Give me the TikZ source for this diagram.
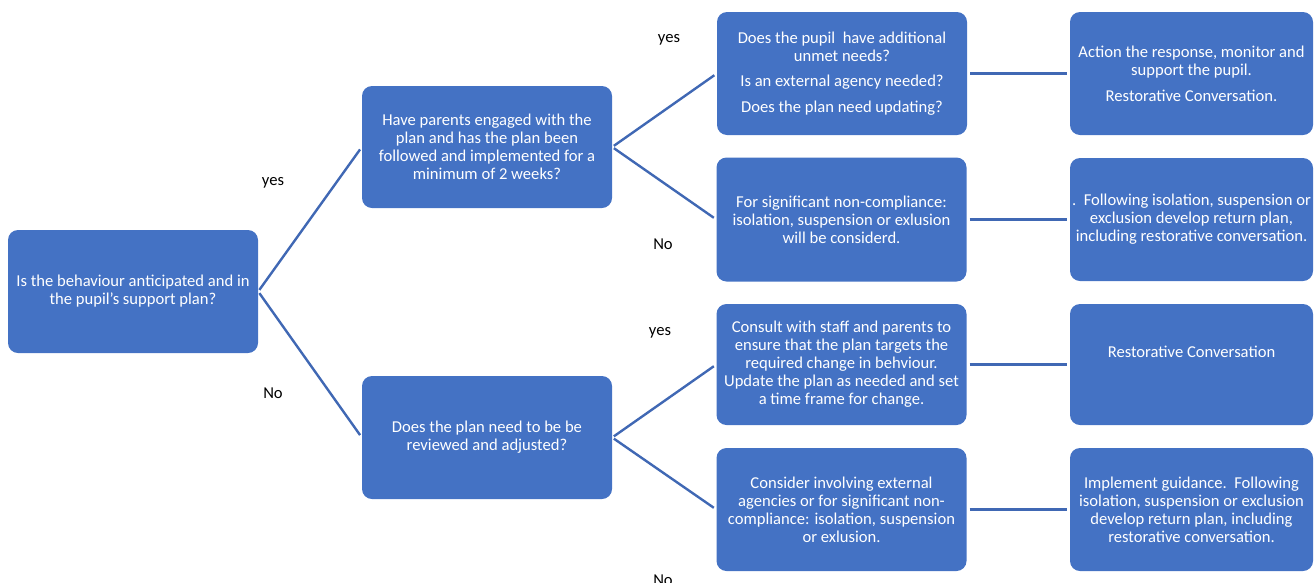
\documentclass[tikz,border=0pt]{standalone}
\usepackage{fontspec}
\setmainfont{Carlito}
\definecolor{boxblue}{HTML}{4472C4}
\definecolor{lineblue}{HTML}{4068B4}
\begin{document}
\begin{tikzpicture}[x=1pt,y=-1pt,
  box/.style={rounded corners=10pt, fill=boxblue, inner sep=0pt, text=white,
    align=center, font=\fontsize{16.6}{18}\selectfont},
  colA/.style={box, minimum width=250pt},
  colD/.style={box, minimum width=243pt},
  conn/.style={draw=lineblue, line width=2.4pt, shorten <=2pt, shorten >=3pt},
  lbl/.style={font=\fontsize{16.6}{18}\selectfont, text=black, inner sep=0pt}]
\useasboundingbox (0,0) rectangle (1316,582);
\clip (0,0) rectangle (1316,582);

\node[colA, minimum height=123pt] (A) at (133,291.5)
  {Is the behaviour anticipated and in\\the pupil's support plan?};
\node[colA, minimum height=122pt] (B) at (487,147)
  {Have parents engaged with the\\plan and has the plan been\\followed and implemented for a\\minimum of 2 weeks?};
\node[colA, minimum height=123pt] (C) at (487,437.5)
  {Does the plan need to be be\\reviewed and adjusted?};

\node[colA, minimum height=123pt] (R1) at (842,73.5)
  {Does the pupil\ \ have additional\\unmet needs?\\[7pt]Is an external agency needed?\\[8pt]Does the plan need updating?};
\node[colA, minimum height=124pt] (R2) at (841.5,219.5)
  {For significant non-compliance:\\isolation, suspension or exlusion\\will be considerd.};
\node[colA, minimum height=121pt] (R3) at (841.5,364.5)
  {Consult with staff and parents to\\ensure that the plan targets the\\required change in behviour.\\Update the plan as needed and set\\a time frame for change.};
\node[colA, minimum height=123pt] (R4) at (841.5,509.5)
  {Consider involving external\\agencies or for significant non-\\compliance: isolation, suspension\\or exlusion.};

\node[colD, minimum height=123pt] (S1) at (1191.5,73.5)
  {Action the response, monitor and\\support the pupil.\\[8pt]Restorative Conversation.};
\node[colD, minimum height=123pt] (S2) at (1191.5,219.5)
  {.\ \ Following isolation, suspension or\\exclusion develop return plan,\\including restorative conversation.};
\node[colD, minimum height=121pt, text depth=25pt] (S3) at (1191.5,364.5)
  {Restorative Conversation};
\node[colD, minimum height=123pt] (S4) at (1191.5,509.5)
  {Implement guidance.\ \ Following\\isolation, suspension or exclusion\\develop return plan, including\\restorative conversation.};

\draw[conn] (A.east) -- (B.west);
\draw[conn] (A.east) -- (C.west);
\draw[conn] (B.east) -- (R1.west);
\draw[conn] (B.east) -- (R2.west);
\draw[conn] (C.east) -- (R3.west);
\draw[conn] (C.east) -- (R4.west);
\draw[conn, shorten <=3pt] (R1.east) -- (S1.west);
\draw[conn, shorten <=3pt] (R2.east) -- (S2.west);
\draw[conn, shorten <=3pt] (R3.east) -- (S3.west);
\draw[conn, shorten <=3pt] (R4.east) -- (S4.west);

\node[lbl] (l1) at (273,183) {yes};
\node[lbl] (l2) at (273,393) {No};
\node[lbl] (l3) at (669,40) {yes};
\node[lbl] (l4) at (663,244) {No};
\node[lbl] (l5) at (660,333) {yes};
\node[lbl] (l6) at (663,580) {No};
\end{tikzpicture}
\end{document}
